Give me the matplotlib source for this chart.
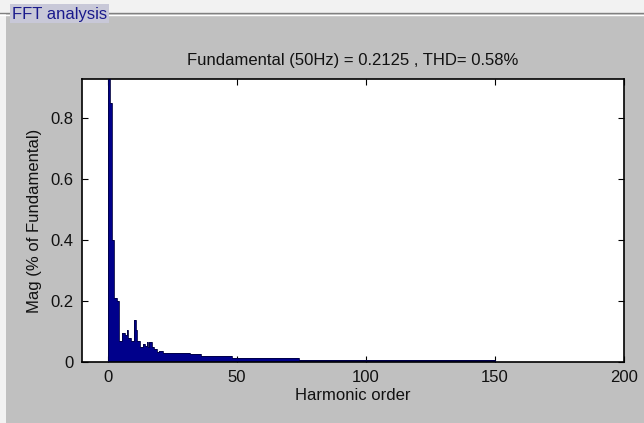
import numpy as np
import matplotlib.pyplot as plt
from matplotlib.patches import Rectangle

plt.rcParams['font.family'] = ['Liberation Sans', 'DejaVu Sans']

# spectrum: bin edges (harmonic order) and magnitudes
edges = [0, 0.5, 1.0, 1.5, 2.0, 2.5, 3.0, 3.5, 4.0, 4.5, 5.0, 5.5, 6.0, 6.5,
         7.0, 7.5, 8.0, 8.5, 9.0, 9.5, 10.0, 10.5, 11.0, 11.5, 12.0, 12.5,
         13.0, 13.5, 14.0, 14.5, 15.0, 15.5, 16.0, 16.5, 17.0, 17.5, 18.0,
         18.5, 19.0, 19.5, 20.0, 21.5, 24.0, 26.0, 28.0, 30.0, 32.0, 36.0,
         48.0, 60.0, 74.0, 100.0, 150.0, 200.0]
mags = [1.0, 1.0, 0.85, 0.40, 0.40, 0.21, 0.21, 0.20, 0.20, 0.07, 0.07,
        0.095, 0.095, 0.09, 0.09, 0.105, 0.08, 0.08, 0.07, 0.07, 0.137,
        0.137, 0.105, 0.07, 0.07, 0.05, 0.05, 0.06, 0.06, 0.053, 0.066,
        0.05, 0.066, 0.066, 0.05, 0.05, 0.042, 0.042, 0.034, 0.034, 0.035,
        0.031, 0.030, 0.029, 0.030, 0.028, 0.026, 0.020, 0.013, 0.012,
        0.006, 0.005, 0.001]

fund = 0.2125
thd = 0.58
xticks = [0, 50, 100, 150, 200]
yticks = [0, 0.2, 0.4, 0.6, 0.8]

fig = plt.figure(figsize=(6.44, 4.23), dpi=100, facecolor='#f2f2f2')

# grey panel with etched border line
fig.patches.append(Rectangle((6 / 644, 0), 1, 1 - 14 / 423, transform=fig.transFigure,
                             facecolor='#c0c0c0', edgecolor='none', zorder=-10))
fig.add_artist(plt.Line2D([0, 1], [1 - 13 / 423, 1 - 13 / 423], transform=fig.transFigure,
                          color='#808080', lw=1, zorder=-5))
fig.add_artist(plt.Line2D([0, 1], [1 - 15 / 423, 1 - 15 / 423], transform=fig.transFigure,
                          color='white', lw=1, zorder=-5))
fig.text(12 / 644, 1 - 14 / 423, 'FFT analysis', color='#1a1a8c', fontsize=12,
         va='center', ha='left',
         bbox=dict(facecolor='#c8c8d8', edgecolor='none', pad=1.5))

ax = fig.add_axes([82 / 644, 1 - 362 / 423, 542 / 644, 283 / 423])
ax.set_facecolor('white')
ax.stairs(mags, edges, fill=True, color='#00008b', zorder=2)
ax.stairs(mags, edges, color='#000040', lw=0.6, zorder=3)

ax.set_xlim(-10, 200)
ax.set_ylim(0, 0.928)
ax.set_xticks(xticks)
ax.set_yticks(yticks)
ax.set_yticklabels(['0', '0.2', '0.4', '0.6', '0.8'])
ax.tick_params(direction='in', top=True, right=True, labelsize=12, length=4, pad=6,
               labelcolor='#111111')
for s in ax.spines.values():
    s.set_linewidth(1.2)

ax.set_title(f'Fundamental (50Hz) = {fund} , THD= {thd}%', fontsize=12, pad=10,
             color='#111111')
ax.set_xlabel('Harmonic order', fontsize=12, labelpad=2, color='#111111')
ax.set_ylabel('Mag (% of Fundamental)', fontsize=12, labelpad=6, color='#111111')

fig.savefig('out.png', dpi=100, facecolor=fig.get_facecolor())
